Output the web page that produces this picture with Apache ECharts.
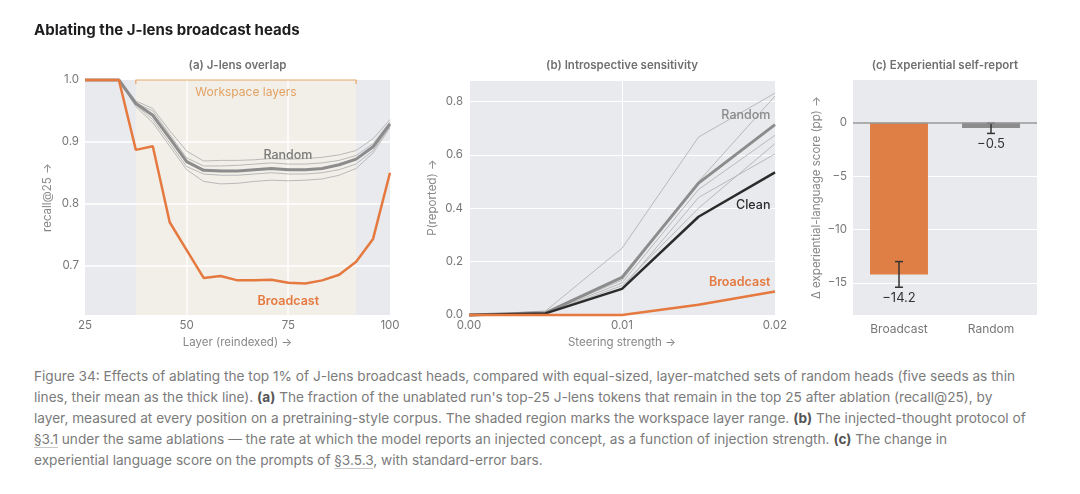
<!DOCTYPE html>
<html>
<head>
<meta charset="utf-8">
<script src="https://cdn.jsdelivr.net/npm/echarts@6/dist/echarts.min.js"></script>
<style>
  html, body { margin: 0; padding: 0; background: #fff; }
  body { width: 1080px; height: 494px; position: relative; overflow: hidden; font-family: Inter, "Noto Sans", sans-serif; }
  #chart { position: absolute; left: 0; top: 0; width: 1080px; height: 360px; }
  #title { position: absolute; left: 34px; top: 20px; font-size: 15px; font-weight: 700; color: #1d1d1f; z-index: 2; }
  #caption { position: absolute; left: 34px; top: 366px; font-size: 13.65px; line-height: 21px; color: #7b7b7b; white-space: nowrap; }
  #caption b { color: #555; }
  #caption a { color: inherit; text-decoration: underline; text-decoration-color: #c8c8c8; text-underline-offset: 3px; }
</style>
</head>
<body>
<div id="chart"></div>
<div id="title">Ablating the J-lens broadcast heads</div>
<div id="caption">
Figure 34: Effects of ablating the top 1% of J-lens broadcast heads, compared with equal-sized, layer-matched sets of random heads (five seeds as thin<br>
lines, their mean as the thick line). <b>(a)</b> The fraction of the unablated run's top-25 J-lens tokens that remain in the top 25 after ablation (recall@25), by<br>
layer, measured at every position on a pretraining-style corpus. The shaded region marks the workspace layer range. <b>(b)</b> The injected-thought protocol of<br>
<a>§3.1</a> under the same ablations — the rate at which the model reports an injected concept, as a function of injection strength. <b>(c)</b> The change in<br>
experiential language score on the prompts of <a>§3.5.3</a>, with standard-error bars.
</div>
<script>
// ---- (a) J-lens overlap ----
const layers = [25, 29.17, 33.33, 37.5, 41.67, 45.83, 50, 54.17, 58.33, 62.5, 66.67, 70.83, 75, 79.17, 83.33, 87.5, 91.67, 95.83, 100];
const recallBroadcast = [1.0, 1.0, 1.0, 0.887, 0.893, 0.770, 0.725, 0.680, 0.683, 0.676, 0.676, 0.677, 0.672, 0.671, 0.676, 0.685, 0.706, 0.743, 0.850];
const recallRandomMean = [1.0, 1.0, 1.0, 0.962, 0.943, 0.906, 0.868, 0.854, 0.853, 0.853, 0.855, 0.857, 0.855, 0.855, 0.857, 0.863, 0.872, 0.892, 0.929];
const recallSeed1 = [1.0, 1.0, 1.0, 0.966, 0.954, 0.918, 0.885, 0.869, 0.870, 0.870, 0.871, 0.873, 0.872, 0.873, 0.875, 0.879, 0.886, 0.905, 0.936];
const recallSeed2 = [1.0, 1.0, 1.0, 0.963, 0.950, 0.912, 0.874, 0.861, 0.861, 0.862, 0.864, 0.866, 0.864, 0.864, 0.866, 0.870, 0.878, 0.897, 0.932];
const recallSeed3 = [1.0, 1.0, 1.0, 0.962, 0.944, 0.905, 0.866, 0.856, 0.854, 0.853, 0.855, 0.857, 0.856, 0.855, 0.857, 0.862, 0.871, 0.891, 0.929];
const recallSeed4 = [1.0, 1.0, 1.0, 0.960, 0.936, 0.898, 0.860, 0.848, 0.846, 0.846, 0.848, 0.850, 0.848, 0.848, 0.850, 0.855, 0.864, 0.886, 0.925];
const recallSeed5 = [1.0, 1.0, 1.0, 0.957, 0.931, 0.893, 0.855, 0.836, 0.832, 0.833, 0.836, 0.838, 0.837, 0.838, 0.840, 0.846, 0.857, 0.882, 0.923];
const workspaceRange = [37.5, 91.67];
const recallGrid = [0.7, 0.8, 0.9];
const layerGrid = [50, 75];

// ---- (b) Introspective sensitivity ----
const strengths = [0, 0.005, 0.01, 0.015, 0.02];
const reportClean = [0, 0.006, 0.098, 0.368, 0.534];
const reportBroadcast = [0, 0, 0, 0.038, 0.088];
const reportRandomMean = [0, 0.008, 0.141, 0.494, 0.713];
const reportSeed1 = [0, 0.015, 0.25, 0.666, 0.831];
const reportSeed2 = [0, 0.010, 0.13, 0.50, 0.820];
const reportSeed3 = [0, 0.008, 0.12, 0.47, 0.673];
const reportSeed4 = [0, 0.006, 0.11, 0.40, 0.642];
const reportSeed5 = [0, 0.005, 0.10, 0.44, 0.603];

// ---- (c) Experiential self-report ----
const conditions = ['Broadcast', 'Random'];
const deltaScore = [-14.2, -0.5];
const deltaErrLow = [-15.4, -1.0];
const deltaErrHigh = [-13.0, -0.05];
const deltaGrid = [-5, -10, -15];

const ORANGE = '#e5793f';
const BAR_ORANGE = '#e07f45';
const PANEL_BG = '#e9eaed';
const FONT = 'Inter';

const pair = (xs, ys) => xs.map((x, i) => [x, ys[i]]);
const minus = v => (v < 0 ? '\u2212' : '') + Math.abs(v);
const near = (v, step) => Math.abs(v / step - Math.round(v / step)) < 1e-6;

const chart = echarts.init(document.getElementById('chart'));

const axisLabel = { color: '#777', fontSize: 11.5, fontFamily: FONT };
const axisName = { color: '#888', fontSize: 11.5, fontFamily: FONT };
const noLine = { show: false };
const whiteSplit = { show: true, lineStyle: { color: '#fff', width: 1 } };

function thin(x, y, xi, z) {
  return {
    type: 'line', xAxisIndex: xi, yAxisIndex: xi, data: pair(x, y),
    showSymbol: false, clip: false, silent: true, z: z,
    lineStyle: { width: 1, color: '#b9b9b9' }
  };
}

const bracket = [
  [workspaceRange[0], 0.9935], [workspaceRange[0], 1.0],
  [workspaceRange[1], 1.0], [workspaceRange[1], 0.9935]
];

const option = {
  animation: false,
  textStyle: { fontFamily: FONT },
  grid: [
    // (a) background is painted as graphic (workspace shading + grid lines)
    { left: 85, top: 80, width: 305, height: 235, show: false },
    { left: 469, top: 80, width: 306, height: 235, show: true, backgroundColor: PANEL_BG, borderWidth: 0 },
    { left: 853, top: 80, width: 184, height: 235, show: true, backgroundColor: PANEL_BG, borderWidth: 0 }
  ],
  xAxis: [
    {
      type: 'value', gridIndex: 0, min: 25, max: 100, interval: 25,
      axisLine: noLine, axisTick: noLine, splitLine: noLine,
      axisLabel: Object.assign({ margin: 5 }, axisLabel),
      name: 'Layer (reindexed) \u2192', nameLocation: 'middle', nameGap: 18, nameTextStyle: axisName
    },
    {
      type: 'value', gridIndex: 1, min: 0, max: 0.02, interval: 0.01,
      axisLine: noLine, axisTick: noLine, splitLine: whiteSplit,
      axisLabel: Object.assign({ margin: 5, formatter: v => v.toFixed(2) }, axisLabel),
      name: 'Steering strength \u2192', nameLocation: 'middle', nameGap: 18, nameTextStyle: axisName
    },
    {
      type: 'category', gridIndex: 2, data: conditions,
      axisLine: noLine, axisTick: noLine, splitLine: noLine,
      axisLabel: Object.assign({ margin: 8 }, axisLabel, { fontSize: 12 })
    }
  ],
  yAxis: [
    {
      type: 'value', gridIndex: 0, min: 0.62, max: 1.0, interval: 0.02,
      axisLine: noLine, axisTick: noLine, splitLine: noLine,
      axisLabel: Object.assign({ margin: 6, formatter: v => near(v, 0.1) ? v.toFixed(1) : '' }, axisLabel),
      name: 'recall@25 \u2192', nameLocation: 'middle', nameGap: 31, nameTextStyle: axisName
    },
    {
      type: 'value', gridIndex: 1, min: 0, max: 0.88, interval: 0.2,
      axisLine: noLine, axisTick: noLine, splitLine: whiteSplit,
      axisLabel: Object.assign({ margin: 6, formatter: v => near(v, 0.2) ? v.toFixed(1) : '' }, axisLabel),
      name: 'P(reported) \u2192', nameLocation: 'middle', nameGap: 30, nameTextStyle: axisName
    },
    {
      type: 'value', gridIndex: 2, min: -18, max: 4, interval: 1,
      axisLine: noLine, axisTick: noLine, splitLine: noLine,
      axisLabel: Object.assign({ margin: 6, formatter: v => near(v, 5) ? minus(v) : '' }, axisLabel),
      name: '\u0394 experiential-language score (pp) \u2192', nameLocation: 'middle', nameGap: 30, nameTextStyle: axisName
    }
  ],
  series: [
    // (a) drawn above the graphic background layers
    thin(layers, recallSeed1, 0, 20),
    thin(layers, recallSeed2, 0, 20),
    thin(layers, recallSeed3, 0, 20),
    thin(layers, recallSeed4, 0, 20),
    thin(layers, recallSeed5, 0, 20),
    {
      type: 'line', xAxisIndex: 0, yAxisIndex: 0, data: pair(layers, recallRandomMean),
      showSymbol: false, clip: false, silent: true, z: 21,
      lineStyle: { width: 3, color: '#8c8c8c' }
    },
    {
      type: 'line', xAxisIndex: 0, yAxisIndex: 0, data: bracket,
      showSymbol: false, clip: false, silent: true, z: 21,
      lineStyle: { width: 1.2, color: '#e6a766' }
    },
    {
      type: 'line', xAxisIndex: 0, yAxisIndex: 0, data: pair(layers, recallBroadcast),
      showSymbol: false, clip: false, silent: true, z: 22,
      lineStyle: { width: 2.5, color: ORANGE }
    },
    // (b)
    thin(strengths, reportSeed1, 1, 3),
    thin(strengths, reportSeed2, 1, 3),
    thin(strengths, reportSeed3, 1, 3),
    thin(strengths, reportSeed4, 1, 3),
    thin(strengths, reportSeed5, 1, 3),
    {
      type: 'line', xAxisIndex: 1, yAxisIndex: 1, data: pair(strengths, reportRandomMean),
      showSymbol: false, clip: false, silent: true, z: 4,
      lineStyle: { width: 3, color: '#8c8c8c' }
    },
    {
      type: 'line', xAxisIndex: 1, yAxisIndex: 1, data: pair(strengths, reportClean),
      showSymbol: false, clip: false, silent: true, z: 5,
      lineStyle: { width: 2.5, color: '#2b2b2b' }
    },
    {
      type: 'line', xAxisIndex: 1, yAxisIndex: 1, data: pair(strengths, reportBroadcast),
      showSymbol: false, clip: false, silent: true, z: 5,
      lineStyle: { width: 2.5, color: ORANGE }
    },
    // (c)
    {
      type: 'bar', xAxisIndex: 2, yAxisIndex: 2, barWidth: '63%', silent: true, z: 2,
      data: deltaScore.map((v, i) => ({ value: v, itemStyle: { color: i === 0 ? BAR_ORANGE : '#8c8c8c' } })),
      markLine: {
        silent: true, symbol: 'none', z: 1, animation: false,
        label: { show: false },
        lineStyle: { color: '#fff', width: 1, type: 'solid' },
        data: deltaGrid.map(v => ({ yAxis: v }))
      }
    },
    {
      type: 'custom', xAxisIndex: 2, yAxisIndex: 2, clip: false, silent: true, z: 4,
      data: conditions.map((c, i) => [i, deltaErrLow[i], deltaErrHigh[i], deltaScore[i]]),
      encode: { x: 0, y: [1, 2] },
      renderItem: (params, api) => {
        const lo = api.coord([api.value(0), api.value(1)]);
        const hi = api.coord([api.value(0), api.value(2)]);
        const w = 4;
        const st = { stroke: '#333', lineWidth: 1.5 };
        const v = api.value(3);
        return {
          type: 'group', children: [
            { type: 'line', shape: { x1: lo[0], y1: lo[1], x2: hi[0], y2: hi[1] }, style: st },
            { type: 'line', shape: { x1: lo[0] - w, y1: lo[1], x2: lo[0] + w, y2: lo[1] }, style: st },
            { type: 'line', shape: { x1: hi[0] - w, y1: hi[1], x2: hi[0] + w, y2: hi[1] }, style: st },
            {
              type: 'text',
              style: {
                text: (v < 0 ? '\u2212' : '') + Math.abs(v).toFixed(1),
                x: lo[0], y: lo[1] + 4, align: 'center', verticalAlign: 'top',
                fontSize: 13, fontFamily: FONT, fill: '#333'
              }
            }
          ]
        };
      },
      markLine: {
        silent: true, symbol: 'none', animation: false,
        label: { show: false },
        lineStyle: { color: '#999', width: 1.5, type: 'solid' },
        data: [{ yAxis: 0 }]
      }
    }
  ]
};

chart.setOption(option);

// panel (a) background, workspace shading and grid lines, panel titles and
// in-plot line labels, all placed from data coordinates through the axes
const panelTitles = [
  { text: '(a) J-lens overlap', grid: 0 },
  { text: '(b) Introspective sensitivity', grid: 1 },
  { text: '(c) Experiential self-report', grid: 2 }
];
const lineLabels = [
  { text: 'Random', grid: 0, at: [74.9, 0.878], align: 'center', color: '#7a7a7a', weight: 500 },
  { text: 'Broadcast', grid: 0, at: [75, 0.642], align: 'center', color: ORANGE, weight: 600 },
  { text: 'Random', grid: 1, at: [0.0197, 0.747], align: 'right', color: '#8a8a8a', weight: 500 },
  { text: 'Clean', grid: 1, at: [0.0197, 0.4125], align: 'right', color: '#2b2b2b', weight: 500 },
  { text: 'Broadcast', grid: 1, at: [0.0197, 0.1225], align: 'right', color: ORANGE, weight: 600 }
];

const toPx = (g, p) => chart.convertToPixel({ gridIndex: g }, p);
const rectA = chart.getModel().getComponent('grid', 0).coordinateSystem.getRect();
const wsX0 = toPx(0, [workspaceRange[0], 0.8])[0];
const wsX1 = toPx(0, [workspaceRange[1], 0.8])[0];

const graphic = [
  { type: 'rect', silent: true, z: 0, shape: { x: rectA.x, y: rectA.y, width: rectA.width, height: rectA.height }, style: { fill: PANEL_BG } },
  { type: 'rect', silent: true, z: 1, shape: { x: wsX0, y: rectA.y, width: wsX1 - wsX0, height: rectA.height }, style: { fill: '#f2efe8' } },
  {
    type: 'text', silent: true, z: 30, x: (wsX0 + wsX1) / 2, y: rectA.y + 12,
    style: { text: 'Workspace layers', align: 'center', verticalAlign: 'middle', fontSize: 12, fontFamily: FONT, fill: '#e2a263' }
  }
];
recallGrid.forEach(v => {
  const y = Math.round(toPx(0, [50, v])[1]);
  graphic.push({
    type: 'rect', silent: true, z: 10,
    shape: { x: rectA.x, y: y - 0.7, width: rectA.width, height: 1.4 },
    style: { fill: '#ffffff' }
  });
});
layerGrid.forEach(v => {
  const x = Math.round(toPx(0, [v, 0.8])[0]);
  graphic.push({
    type: 'rect', silent: true, z: 10,
    shape: { x: x - 0.7, y: rectA.y, width: 1.4, height: rectA.height },
    style: { fill: '#ffffff' }
  });
});
panelTitles.forEach(t => {
  const rect = chart.getModel().getComponent('grid', t.grid).coordinateSystem.getRect();
  graphic.push({
    type: 'text', x: rect.x + rect.width / 2, y: 66, silent: true, z: 30,
    style: { text: t.text, align: 'center', verticalAlign: 'middle', fontSize: 11.5, fontWeight: 600, fontFamily: FONT, fill: '#707070' }
  });
});
lineLabels.forEach(l => {
  const p = toPx(l.grid, l.at);
  graphic.push({
    type: 'text', x: p[0], y: p[1], silent: true, z: 30,
    style: { text: l.text, align: l.align, verticalAlign: 'middle', fontSize: 12.5, fontWeight: l.weight, fontFamily: FONT, fill: l.color }
  });
});
chart.setOption({ graphic: graphic });
</script>
</body>
</html>
